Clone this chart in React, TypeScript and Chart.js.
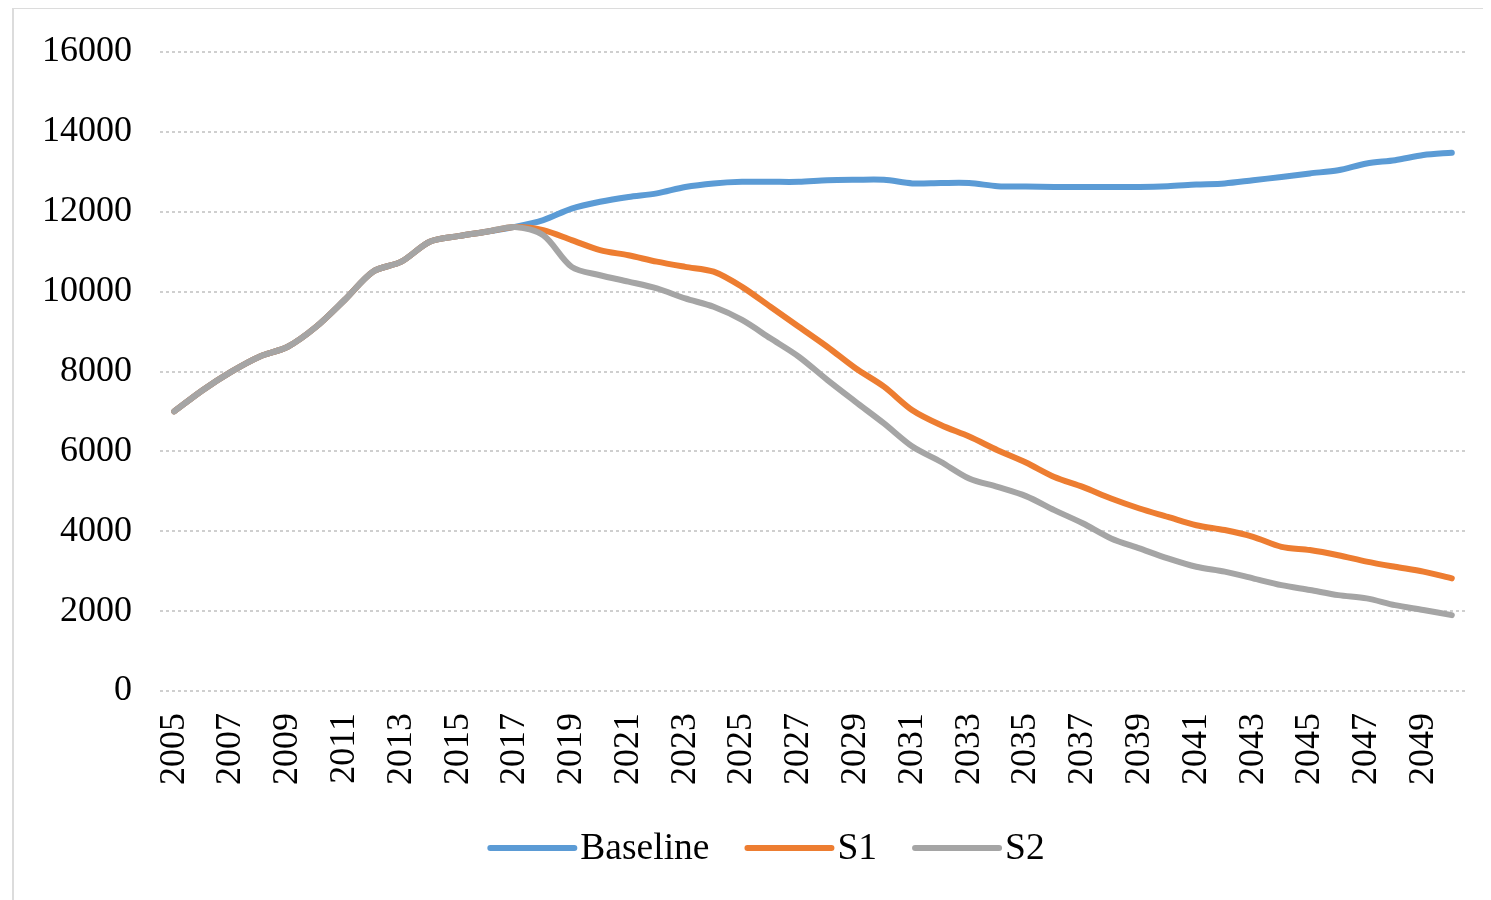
import React, { useEffect, useRef } from "react";
import { Chart, registerables } from "chart.js";

Chart.register(...registerables);

// Years on the category axis
const years: string[] = [];
for (let y = 2005; y <= 2050; y++) years.push(String(y));

// Observed values shared by every scenario (2005–2017)
const history = [7000, 7530, 7990, 8370, 8620, 9120, 9790, 10500, 10750, 11250, 11390, 11500, 11620];

// Projections 2018–2050
const baselineProjection = [
  11790, 12080, 12250, 12370, 12460, 12620, 12710, 12750, 12750, 12750, 12790, 12800, 12800,
  12710, 12720, 12720, 12640, 12630, 12620, 12620, 12620, 12620, 12640, 12680, 12710, 12790,
  12870, 12960, 13040, 13210, 13290, 13420, 13480,
];
const s1Projection = [
  11540, 11290, 11040, 10910, 10750, 10620, 10500, 10120, 9620, 9120, 8620, 8080, 7620, 7030,
  6660, 6370, 6030, 5720, 5360, 5110, 4820, 4570, 4360, 4150, 4030, 3860, 3610, 3530, 3400,
  3240, 3110, 2990, 2820,
];
const s2Projection = [
  11410, 10620, 10410, 10250, 10080, 9830, 9620, 9290, 8830, 8370, 7790, 7240, 6700, 6120,
  5740, 5320, 5110, 4880, 4530, 4200, 3820, 3570, 3320, 3110, 2990, 2820, 2650, 2530, 2400,
  2320, 2150, 2030, 1900,
];

const seriesNames = ["Baseline", "S1", "S2"];
const seriesColors = ["#5B9BD5", "#ED7D31", "#A5A5A5"];

const FONT = "'Liberation Serif', 'Times New Roman', serif";

// Legend drawn as a short line followed closely by its label
const lineLegend = {
  id: "lineLegend",
  afterDraw(chart: any) {
    const ctx = chart.ctx;
    const lineLen = 88;
    const gap = 4;
    const spacing = 36;
    ctx.save();
    ctx.font = `37.5px ${FONT}`;
    const widths = seriesNames.map((n) => ctx.measureText(n).width);
    const total =
      widths.reduce((a, w) => a + lineLen + gap + w, 0) + spacing * (seriesNames.length - 1);
    let x = chart.width / 2 + 14 - total / 2;
    const y = 839;
    seriesNames.forEach((name, i) => {
      ctx.strokeStyle = seriesColors[i];
      ctx.lineWidth = 6;
      ctx.lineCap = "round";
      ctx.beginPath();
      ctx.moveTo(x + 2, y);
      ctx.lineTo(x + lineLen - 2, y);
      ctx.stroke();
      x += lineLen + gap;
      ctx.fillStyle = "#000";
      ctx.textBaseline = "middle";
      ctx.textAlign = "left";
      ctx.fillText(name, x, y + 1);
      x += widths[i] + spacing;
    });
    ctx.restore();
  },
};

export default function App() {
  const canvasRef = useRef<HTMLCanvasElement | null>(null);

  useEffect(() => {
    document.documentElement.style.overflow = "hidden";
    document.body.style.overflow = "hidden";
    const canvas = canvasRef.current;
    if (!canvas) return;

    const baseline = [...history, ...baselineProjection];
    const s1 = [...history, ...s1Projection];
    const s2 = [...history, ...s2Projection];
    const values = [baseline, s1, s2];

    const chart = new Chart(canvas, {
      type: "line",
      data: {
        labels: years,
        datasets: values.map((data, i) => ({
          label: seriesNames[i],
          data,
          borderColor: seriesColors[i],
          backgroundColor: seriesColors[i],
          borderWidth: 6,
          borderCapStyle: "round" as const,
          borderJoinStyle: "round" as const,
          pointRadius: 0,
          tension: 0.3,
          fill: false,
          order: seriesNames.length - 1 - i,
        })),
      },
      options: {
        animation: false,
        responsive: false,
        maintainAspectRatio: false,
        layout: { padding: { top: 43, right: 25, bottom: 88, left: 0 } },
        plugins: {
          legend: { display: false },
          tooltip: { enabled: false },
        },
        scales: {
          x: {
            offset: true,
            grid: { display: false, drawTicks: false },
            border: { display: false },
            afterFit: (scale: any) => {
              scale.height = 110;
              scale.paddingLeft = 0;
              scale.paddingRight = 0;
            },
            ticks: {
              autoSkip: false,
              maxRotation: 90,
              minRotation: 90,
              padding: 22,
              color: "#000",
              font: { family: FONT, size: 36 },
              callback: (_v: any, idx: number) => (idx % 2 === 0 ? years[idx] : ""),
            },
          },
          y: {
            min: 0,
            max: 16000,
            afterFit: (scale: any) => {
              scale.width = 146;
              scale.paddingTop = 0;
              scale.paddingBottom = 0;
            },
            grid: {
              color: "#cfcfcf",
              lineWidth: 2,
              drawTicks: false,
            },
            border: { display: false, dash: [3, 3] },
            ticks: {
              stepSize: 2000,
              padding: 28,
              color: "#000",
              font: { family: FONT, size: 36 },
              callback: (v: any) => String(v),
            },
          },
        },
      },
      plugins: [lineLegend],
    });

    return () => chart.destroy();
  }, []);

  return (
    <div
      style={{
        marginLeft: 4,
        marginTop: -1,
        width: 1481,
        height: 900,
        borderTop: "2px solid #dcdcdc",
        borderLeft: "2px solid #dcdcdc",
        boxSizing: "border-box",
        background: "#fff",
      }}
    >
      <canvas ref={canvasRef} width={1477} height={880} style={{ display: "block" }} />
    </div>
  );
}
